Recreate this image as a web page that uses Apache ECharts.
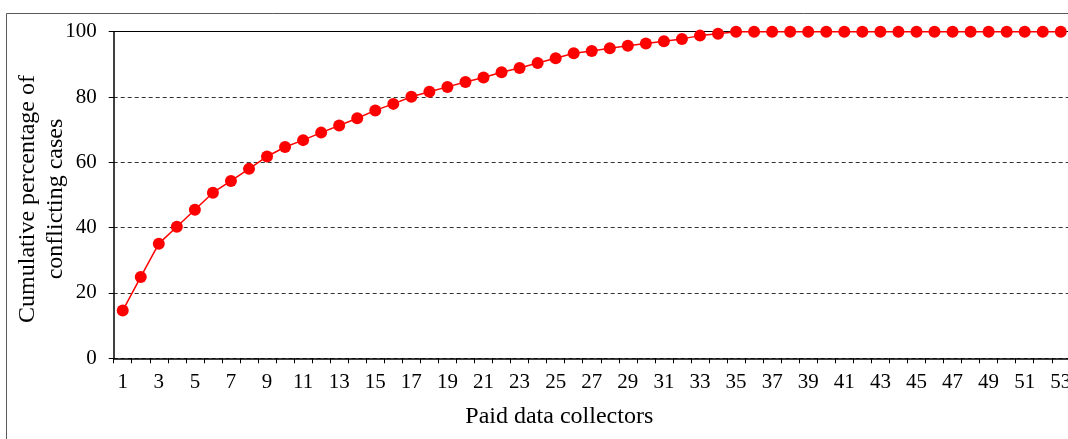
<!DOCTYPE html>
<html>
<head>
<meta charset="utf-8">
<script src="https://cdn.jsdelivr.net/npm/echarts@6/dist/echarts.min.js"></script>
<style>
  html, body { margin: 0; padding: 0; background: #fff; }
  #chart { width: 1068px; height: 439px; }
</style>
</head>
<body>
<div id="chart"></div>
<script>
// Paid data collectors, numbered 1..53
const collectors = [];
for (let i = 1; i <= 53; i++) collectors.push(String(i));

// Cumulative percentage of conflicting cases per collector
const cumulativePct = [
  14.6, 24.9, 35.1, 40.3, 45.5, 50.7, 54.3, 58.0, 61.8, 64.7,
  66.8, 69.1, 71.3, 73.5, 75.9, 77.9, 80.1, 81.6, 83.1, 84.6,
  86.0, 87.6, 88.9, 90.4, 91.9, 93.4, 94.1, 94.9, 95.7, 96.4,
  97.1, 97.8, 98.8, 99.4, 100, 100, 100, 100, 100, 100,
  100, 100, 100, 100, 100, 100, 100, 100, 100, 100,
  100, 100, 100
];

const yTicks = { min: 0, max: 100, interval: 20 };

const serif = '"Liberation Serif", "Times New Roman", "DejaVu Serif", serif';

const chart = echarts.init(document.getElementById('chart'), null, { renderer: 'canvas' });

chart.setOption({
  animation: false,
  backgroundColor: '#ffffff',
  graphic: [{
    type: 'rect',
    silent: true,
    shape: { x: 6.5, y: 13.5, width: 1200, height: 600 },
    style: { fill: 'none', stroke: '#595959', lineWidth: 1 }
  }],
  grid: {
    left: 113.7, right: -1.8, top: 31.7, bottom: 80.7,
    containLabel: false, outerBoundsMode: 'none'
  },
  xAxis: [{
    type: 'category',
    data: collectors,
    boundaryGap: true,
    name: 'Paid data collectors',
    nameLocation: 'middle',
    nameGap: 46,
    nameMoveOverlap: false,
    nameTextStyle: { fontFamily: serif, fontSize: 24, color: '#000', padding: [0, 65, 0, 0] },
    axisLine: { lineStyle: { color: '#000', width: 1.5 } },
    axisTick: { show: true, interval: 0, length: 5, lineStyle: { color: '#000', width: 1 } },
    axisLabel: { interval: 1, margin: 14, fontFamily: serif, fontSize: 21, color: '#000' },
    splitLine: { show: false }
  }, {
    // closes the plot at the 100 line
    type: 'category',
    data: collectors,
    position: 'top',
    axisLine: { show: true, onZero: false, lineStyle: { color: '#000', width: 1.2 } },
    axisTick: { show: false },
    axisLabel: { show: false },
    splitLine: { show: false }
  }],
  yAxis: {
    type: 'value',
    min: yTicks.min,
    max: yTicks.max,
    interval: yTicks.interval,
    name: 'Cumulative percentage of\nconflicting cases',
    nameLocation: 'middle',
    nameGap: 44,
    nameMoveOverlap: false,
    nameTextStyle: {
      fontFamily: serif, fontSize: 24, lineHeight: 28, color: '#000', align: 'center',
      padding: [0, 8, 0, 0]
    },
    axisLine: { show: true, lineStyle: { color: '#000', width: 1.5 } },
    axisTick: { show: true, length: 5, lineStyle: { color: '#000', width: 1 } },
    axisLabel: { margin: 17, fontFamily: serif, fontSize: 21, color: '#000' },
    splitLine: { show: true, lineStyle: { color: '#333', width: 1, type: [4, 3] } }
  },
  series: [{
    type: 'line',
    data: cumulativePct,
    symbol: 'circle',
    symbolSize: 12,
    lineStyle: { color: '#ff0000', width: 1.5 },
    itemStyle: { color: '#ff0000' },
    z: 3
  }]
});
</script>
</body>
</html>
